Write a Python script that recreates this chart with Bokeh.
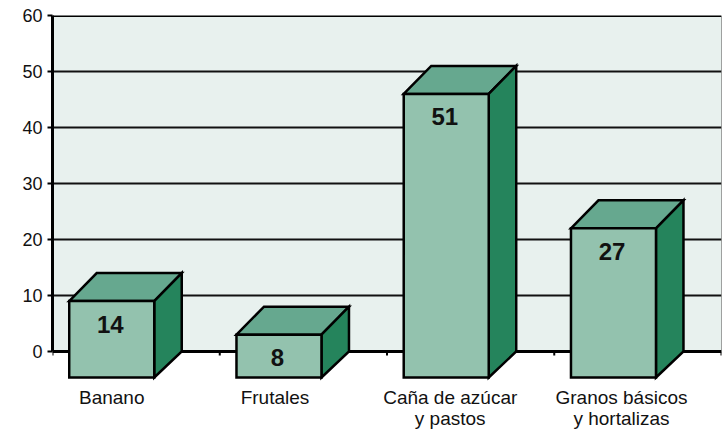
from bokeh.plotting import figure
from bokeh.models import Range1d, FixedTicker, LinearAxis
from bokeh.core.properties import value as fixed
from bokeh.embed import file_html
from bokeh.resources import INLINE

categories = ["Banano", "Frutales", "Caña de azúcar\ny pastos", "Granos básicos\ny hortalizas"]
values = [14, 8, 51, 27]
y_ticks = [0, 10, 20, 30, 40, 50, 60]

FONT = "Liberation Sans"
BG = "#E8F1EE"
FRONT = "#93C2AE"
TOP = "#66A88F"
SIDE = "#25845C"

PX_X = 167.25      # pixels per category
PX_Y = 5.6         # pixels per value unit
DX = 27.5 / PX_X   # depth of the 3D box
DY = 28 / PX_Y     # depth at the top of a box
DY_BASE = 26 / PX_Y  # depth at its base
LEFT = 0.1         # front face left offset in a category
WIDTH = 85 / PX_X

p = figure(width=723, height=429, output_backend="svg", toolbar_location=None,
           x_range=Range1d(0, 4), y_range=Range1d(-78 / PX_Y, 60),
           min_border_left=52, min_border_right=2, min_border_top=15, min_border_bottom=0,
           x_axis_type=None, y_axis_type=None, outline_line_color=None,
           background_fill_color="white", border_fill_color="white")

# plot wall
p.quad(left=[0], right=[4], bottom=[0], top=[60], fill_color=BG, line_color=None, level="image")

# value axis
yaxis = LinearAxis(ticker=FixedTicker(ticks=y_ticks), bounds=(0, 60),
                   axis_line_color="black", axis_line_width=3,
                   major_tick_line_color="black", major_tick_line_width=2,
                   major_tick_in=0, major_tick_out=5, minor_tick_line_color=None,
                   major_label_standoff=5, major_label_text_font=FONT,
                   major_label_text_font_size="18px", major_label_text_color="#111111")
p.add_layout(yaxis, "left")

# grid and frame lines
for t in y_ticks[1:-1]:
    p.segment(x0=[0], x1=[4], y0=[t], y1=[t], line_color="#111111", line_width=2)
p.segment(x0=[0], x1=[4], y0=[60], y1=[60], line_color="black", line_width=3)
p.segment(x0=[4], x1=[4], y0=[0], y1=[60], line_color="#444444", line_width=1)
p.segment(x0=[0], x1=[4], y0=[0], y1=[0], line_color="black", line_width=3)
xt = list(range(len(categories) + 1))
p.segment(x0=xt, x1=xt, y0=[0] * len(xt), y1=[-4 / PX_Y] * len(xt), line_color="black", line_width=2)

# 3D boxes
fx0 = [i + LEFT for i in range(len(values))]
fx1 = [x + WIDTH for x in fx0]
ftop = [v - DY for v in values]

p.patches(xs=[[a, a + DX, b + DX, b] for a, b in zip(fx0, fx1)],
          ys=[[t, t + DY, t + DY, t] for t in ftop],
          fill_color=TOP, line_color="black", line_width=2.5, line_join="miter")
p.patches(xs=[[b, b + DX, b + DX, b] for b in fx1],
          ys=[[t, t + DY, 0, -DY_BASE] for t in ftop],
          fill_color=SIDE, line_color="black", line_width=2.5, line_join="miter")
p.quad(left=fx0, right=fx1, bottom=[-DY_BASE] * len(values), top=ftop,
       fill_color=FRONT, line_color="black", line_width=2.5, line_join="miter")

# value labels
p.text(x=[(a + b) / 2 - 1.5 / PX_X for a, b in zip(fx0, fx1)],
       y=[t - 23 / PX_Y for t in ftop], text=[str(v) for v in values],
       text_font=fixed(FONT), text_font_style="bold", text_font_size="24px",
       text_align="center", text_baseline="middle", text_color="#111111")

# category labels, under the boxes
nudge_px = [0, -4, 4, 8]
p.text(x=[(a + b) / 2 + n / PX_X for a, b, n in zip(fx0, fx1, nudge_px)],
       y=[-35 / PX_Y] * len(categories), text=categories,
       text_font=fixed(FONT), text_font_size="19px", text_align="center",
       text_baseline="top", text_line_height=1.0, text_color="#111111")

open("out.html", "w").write(file_html(p, INLINE))
